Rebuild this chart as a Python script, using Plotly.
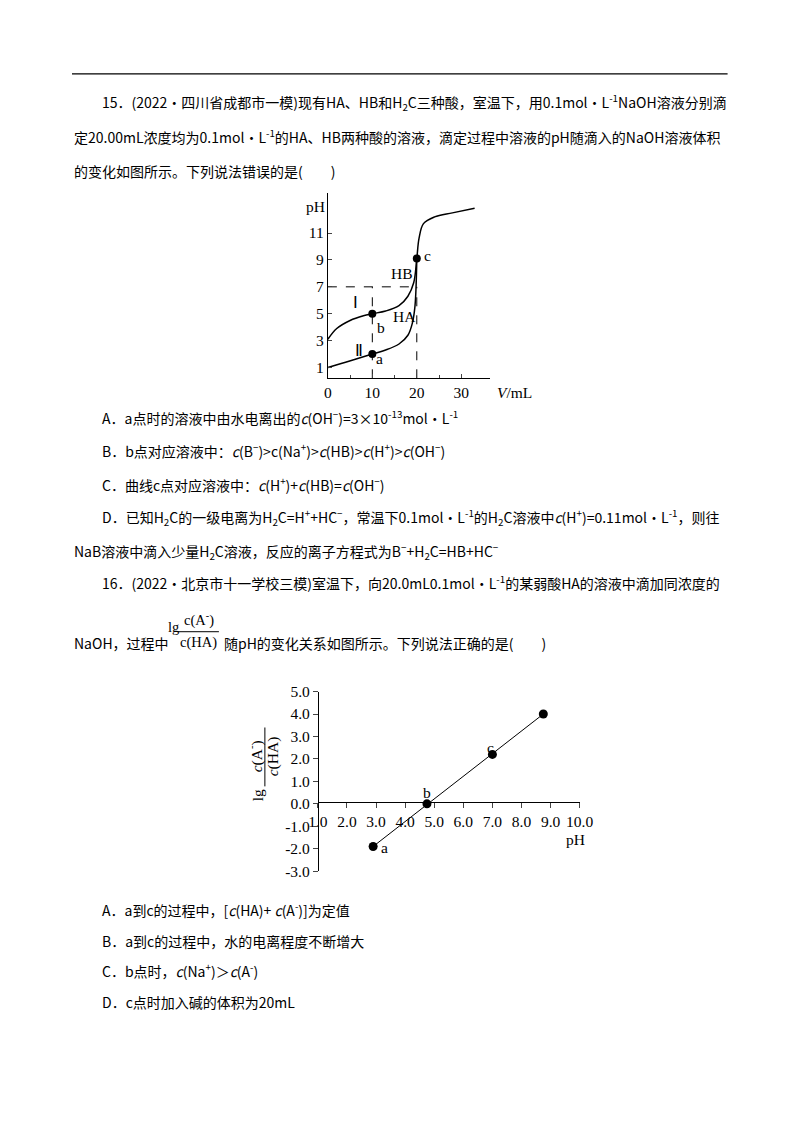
import plotly.graph_objects as go

W, H = 784, 1116
def fx(px): return ((px - 10.2) / 0.970 - 8) / W
def fy(py): return 1 - ((py - 8) / 0.987 - 8) / H

# Chart 1 data
v_I = [0, 2, 5, 8, 10, 13, 16, 18, 19.3, 20, 20.5, 21.5, 24, 28, 33]
ph_I = [3.1, 3.9, 4.5, 4.85, 5.0, 5.2, 5.6, 6.3, 7.3, 9.1, 10.6, 11.7, 12.2, 12.5, 12.85]
v_II = [0, 3, 6, 10, 13, 16, 18, 19, 19.6, 20]
ph_II = [1.0, 1.3, 1.6, 2.0, 2.3, 2.75, 3.4, 4.3, 5.6, 9.1]
pts1_v = [10, 10, 20]
pts1_ph = [2.0, 5.0, 9.1]
# Chart 2 data
ph2 = [2.9, 4.75, 7.0, 8.75]
lg2 = [-1.9, 0.0, 2.2, 4.0]

fig = go.Figure()
dash = dict(color='black', width=1, dash='dash')
fig.add_trace(go.Scatter(x=[0, 20], y=[7, 7], mode='lines', line=dash, xaxis='x', yaxis='y'))
fig.add_trace(go.Scatter(x=[10, 10], y=[0.2, 7], mode='lines', line=dash, xaxis='x', yaxis='y'))
fig.add_trace(go.Scatter(x=[20, 20], y=[0.2, 7], mode='lines', line=dash, xaxis='x', yaxis='y'))
fig.add_trace(go.Scatter(x=v_I, y=ph_I, mode='lines', line=dict(color='black', width=1.5, shape='spline'), xaxis='x', yaxis='y'))
fig.add_trace(go.Scatter(x=v_II, y=ph_II, mode='lines', line=dict(color='black', width=1.5, shape='spline'), xaxis='x', yaxis='y'))
fig.add_trace(go.Scatter(x=pts1_v, y=pts1_ph, mode='markers', marker=dict(color='black', size=8), xaxis='x', yaxis='y'))
fig.add_trace(go.Scatter(x=[ph2[0], ph2[-1]], y=[lg2[0], lg2[-1]], mode='lines', line=dict(color='black', width=1), xaxis='x2', yaxis='y2'))
fig.add_trace(go.Scatter(x=ph2, y=lg2, mode='markers', marker=dict(color='black', size=9), xaxis='x2', yaxis='y2'))

serif = dict(family='Liberation Serif', size=15.5, color='black')
fig.update_layout(
    width=W, height=H, margin=dict(l=0, r=0, t=0, b=0), showlegend=False,
    paper_bgcolor='white', plot_bgcolor='rgba(0,0,0,0)',
    xaxis=dict(domain=[fx(328), fx(490)], range=[0, 36.4], anchor='y', showgrid=False, zeroline=False,
               showline=True, linecolor='black', ticks='inside', tickvals=[0, 10, 20, 30], ticklen=4,
               minor=dict(tickvals=[5, 15, 25], ticks='inside', ticklen=3), tickfont=serif),
    yaxis=dict(domain=[fy(378), fy(192)], range=[0.2, 14], anchor='x', showgrid=False, zeroline=False,
               showline=True, linecolor='black', ticks='inside', tickvals=[1, 3, 5, 7, 9, 11], ticklen=4,
               tickfont=serif),
    xaxis2=dict(domain=[fx(318), fx(580)], range=[1, 10], anchor='free', position=fy(803), showgrid=False,
                zeroline=False, showline=True, linecolor='black', ticks='outside', ticklen=5,
                tickvals=list(range(1, 11)), ticktext=['%.1f' % v for v in range(1, 11)], tickfont=serif),
    yaxis2=dict(domain=[fy(872), fy(692)], range=[-3, 5], anchor='free', position=fx(318), showgrid=False,
                zeroline=False, showline=True, linecolor='black', ticks='outside', ticklen=5,
                tickvals=list(range(-3, 6)), ticktext=['%.1f' % v for v in range(-3, 6)], tickfont=serif),
)

def hline(x0, x1, y, w=1):
    fig.add_shape(type='line', xref='paper', yref='paper', x0=fx(x0), x1=fx(x1), y0=fy(y), y1=fy(y),
                  line=dict(color='black', width=w))
hline(72, 728, 73, 1.2)
hline(178, 219, 632)

cjk = dict(family='Noto Sans CJK SC', size=14, color='black')
def txt(x, y, s, font=cjk, anchor='left', angle=0):
    fig.add_annotation(x=fx(x), y=fy(y), xref='paper', yref='paper', text=s, showarrow=False,
                       xanchor=anchor, yanchor='middle', font=font, textangle=angle)

lines = [
    (100, 102, '15．(2022·四川省成都市一模)现有HA、HB和H<sub>2</sub>C三种酸，室温下，用0.1mol·L<sup>-1</sup>NaOH溶液分别滴'),
    (72, 136, '定20.00mL浓度均为0.1mol·L<sup>-1</sup>的HA、HB两种酸的溶液，滴定过程中溶液的pH随滴入的NaOH溶液体积'),
    (72, 170, '的变化如图所示。下列说法错误的是(　　)'),
    (100, 417, 'A．a点时的溶液中由水电离出的<i>c</i>(OH<sup>−</sup>)=3×10<sup>-13</sup>mol·L<sup>-1</sup>'),
    (100, 450, 'B．b点对应溶液中：<i>c</i>(B<sup>−</sup>)>c(Na<sup>+</sup>)><i>c</i>(HB)><i>c</i>(H<sup>+</sup>)><i>c</i>(OH<sup>−</sup>)'),
    (100, 484, 'C．曲线c点对应溶液中：<i>c</i>(H<sup>+</sup>)+<i>c</i>(HB)=<i>c</i>(OH<sup>−</sup>)'),
    (100, 518, 'D．已知H<sub>2</sub>C的一级电离为H<sub>2</sub>C=H<sup>+</sup>+HC<sup>−</sup>，常温下0.1mol·L<sup>-1</sup>的H<sub>2</sub>C溶液中<i>c</i>(H<sup>+</sup>)=0.11mol·L<sup>-1</sup>，则往'),
    (72, 552, 'NaB溶液中滴入少量H<sub>2</sub>C溶液，反应的离子方程式为B<sup>−</sup>+H<sub>2</sub>C=HB+HC<sup>−</sup>'),
    (100, 583, '16．(2022·北京市十一学校三模)室温下，向20.0mL0.1mol·L<sup>-1</sup>的某弱酸HA的溶液中滴加同浓度的'),
    (72, 643, 'NaOH，过程中'),
    (222, 643, '随pH的变化关系如图所示。下列说法正确的是(　　)'),
    (100, 910, 'A．a到c的过程中，[<i>c</i>(HA)+ <i>c</i>(A<sup>-</sup>)]为定值'),
    (100, 942, 'B．a到c的过程中，水的电离程度不断增大'),
    (100, 972, 'C．b点时，<i>c</i>(Na<sup>+</sup>)＞<i>c</i>(A<sup>-</sup>)'),
    (100, 1003, 'D．c点时加入碱的体积为20mL'),
]
for x, y, s in lines:
    txt(x, y, s)

s14 = dict(family='Liberation Serif', size=14.5, color='black')
txt(174, 627, 'lg', s14, 'center')
txt(199, 620, 'c(A<sup>-</sup>)', s14, 'center')
txt(199, 643, 'c(HA)', s14, 'center')

s15 = dict(family='Liberation Serif', size=15.5, color='black')
txt(316, 206, 'pH', s15, 'center')
txt(515, 392, '<i>V</i>/mL', s15, 'center')
txt(356, 302, 'Ⅰ', s15, 'center')
txt(359, 350, 'Ⅱ', s15, 'center')
txt(402, 273, 'HB', s15, 'center')
txt(405, 316, 'HA', s15, 'center')
txt(381, 327, 'b', s15, 'center')
txt(380, 358, 'a', s15, 'center')
txt(428, 255, 'c', s15, 'center')

txt(385, 848, 'a', s15, 'center')
txt(427, 793, 'b', s15, 'center')
txt(491, 748, 'c', s15, 'center')
txt(576, 840, 'pH', s15, 'center')
txt(257, 796, 'lg', s15, 'center', -90)
txt(256, 757, '<i>c</i>(A<sup>-</sup>)', s15, 'center', -90)
fig.add_shape(type='line', xref='paper', yref='paper', x0=fx(265), x1=fx(265), y0=fy(787), y1=fy(728),
              line=dict(color='black', width=1))
txt(274, 757, '<i>c</i>(HA)', s15, 'center', -90)

fig.write_html('out.html')
